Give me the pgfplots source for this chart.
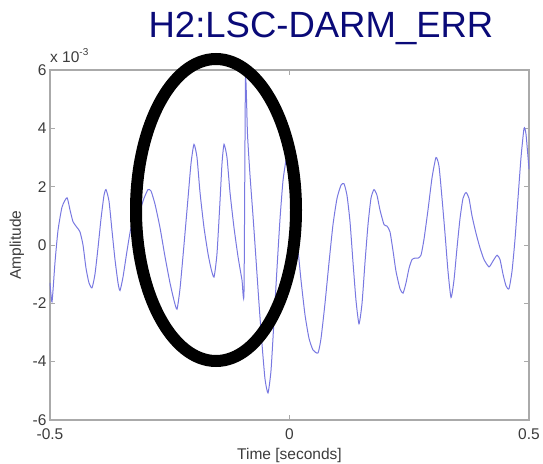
\documentclass[border=0pt]{standalone}
\usepackage{pgfplots}
\usepackage{pgfplotstable}
\pgfplotsset{compat=1.18}
\usepackage{fontspec}
\setmainfont{Liberation Sans}
\definecolor{titleblue}{RGB}{10,10,120}
\definecolor{curve}{RGB}{120,120,225}
\definecolor{frame}{RGB}{170,170,170}
\definecolor{ticktext}{RGB}{60,60,60}

\pgfplotstableread{
t v
-0.5000 -1.30
-0.4958 -1.95
-0.4896 -0.60
-0.4833 0.50
-0.4749 1.30
-0.4645 1.62
-0.4582 1.20
-0.4520 0.80
-0.4436 0.60
-0.4374 0.45
-0.4311 0.00
-0.4248 -0.80
-0.4186 -1.30
-0.4123 -1.47
-0.4061 -1.00
-0.3998 -0.10
-0.3935 0.90
-0.3873 1.70
-0.3831 1.90
-0.3768 1.50
-0.3706 0.50
-0.3643 -0.50
-0.3580 -1.30
-0.3539 -1.56
-0.3476 -1.10
-0.3392 -0.20
-0.3309 0.60
-0.3205 1.10
-0.3121 1.20
-0.3038 1.60
-0.2954 1.90
-0.2891 1.85
-0.2808 1.40
-0.2704 0.60
-0.2599 -0.40
-0.2495 -1.30
-0.2411 -1.90
-0.2349 -2.20
-0.2286 -1.50
-0.2203 0.00
-0.2119 1.60
-0.2056 2.80
-0.1994 3.45
-0.1931 3.00
-0.1868 1.80
-0.1785 0.60
-0.1701 -0.30
-0.1639 -0.80
-0.1576 -1.10
-0.1514 -0.30
-0.1451 1.50
-0.1409 2.80
-0.1367 3.45
-0.1305 3.00
-0.1242 1.80
-0.1159 0.60
-0.1075 -0.40
-0.0992 -1.20
-0.0950 -1.60
-0.0919 5.70
-0.0877 3.80
-0.0825 2.40
-0.0762 1.00
-0.0699 -0.50
-0.0637 -2.00
-0.0574 -3.40
-0.0511 -4.60
-0.0449 -5.07
-0.0386 -4.30
-0.0324 -2.60
-0.0261 -0.80
-0.0198 0.90
-0.0136 2.20
-0.0073 2.90
-0.0031 3.00
0.0010 2.70
0.0073 1.70
0.0157 0.20
0.0240 -1.20
0.0324 -2.40
0.0407 -3.20
0.0491 -3.60
0.0595 -3.70
0.0658 -3.20
0.0741 -2.00
0.0825 -0.60
0.0908 0.70
0.0992 1.60
0.1075 2.05
0.1138 2.10
0.1200 1.70
0.1263 0.80
0.1326 -0.60
0.1388 -1.90
0.1451 -2.70
0.1514 -2.00
0.1576 -0.60
0.1639 0.70
0.1701 1.60
0.1764 1.90
0.1827 1.70
0.1889 1.20
0.1973 0.70
0.2035 0.65
0.2098 0.45
0.2161 -0.20
0.2223 -0.90
0.2307 -1.50
0.2370 -1.65
0.2432 -1.30
0.2495 -0.80
0.2557 -0.50
0.2620 -0.45
0.2683 -0.45
0.2745 -0.35
0.2808 0.20
0.2891 1.20
0.2975 2.30
0.3058 3.00
0.3121 2.70
0.3184 1.60
0.3246 0.40
0.3309 -0.90
0.3372 -1.80
0.3434 -1.20
0.3497 -0.10
0.3559 0.90
0.3622 1.60
0.3685 1.80
0.3747 1.60
0.3810 1.00
0.3894 0.40
0.3977 -0.10
0.4061 -0.50
0.4165 -0.75
0.4248 -0.55
0.4332 -0.35
0.4395 -0.50
0.4457 -1.00
0.4520 -1.40
0.4582 -1.50
0.4645 -0.90
0.4708 0.20
0.4770 1.60
0.4833 3.00
0.4896 4.00
0.4937 3.80
0.5000 2.60
}\signal

\begin{document}
\begin{tikzpicture}
\begin{axis}[
  scale only axis, width=479pt, height=350pt,
  at={(0pt,0pt)}, anchor=south west,
  xmin=-0.5, xmax=0.5, ymin=-6, ymax=6,
  xtick={-0.5,0,0.5}, xticklabels={-0.5,0,0.5},
  ytick={-6,-4,-2,0,2,4,6}, yticklabels={-6,-4,-2,0,2,4,6},
  tick align=inside, major tick length=5pt,
  axis line style={frame, line width=1.2pt},
  every tick/.style={frame, line width=0.8pt},
  tick label style={font=\fontsize{15.5}{16}\selectfont, text=ticktext},
  xticklabel style={yshift=-5pt},
  clip=false,
]
\addplot[curve, line width=1pt, smooth, tension=0.35] table[x=t, y=v] {\signal};
\end{axis}
\node[anchor=base west, text=ticktext, font=\fontsize{15.5}{16}\selectfont, inner sep=0pt]
  at (0pt,357pt) {x 10\raisebox{7pt}{\fontsize{10}{10}\selectfont -3}};
\node[anchor=base, text=ticktext, font=\fontsize{15.5}{16}\selectfont, inner sep=0pt]
  at (239.5pt,-39pt) {Time [seconds]};
\node[anchor=base, rotate=90, text=ticktext, font=\fontsize{15.5}{16}\selectfont, inner sep=0pt]
  at (-29pt,175pt) {Amplitude};
\node[anchor=base, text=titleblue, font=\fontsize{36.5}{40}\selectfont, inner sep=0pt]
  at (271pt,382pt) {H2:LSC-DARM\_ERR};
\draw[black, line width=12pt] (166pt,210pt) ellipse [x radius=80pt, y radius=151pt];
\pgfresetboundingbox
\path[use as bounding box] (-50pt,-43pt) rectangle (493pt,420pt);
\end{tikzpicture}
\end{document}
